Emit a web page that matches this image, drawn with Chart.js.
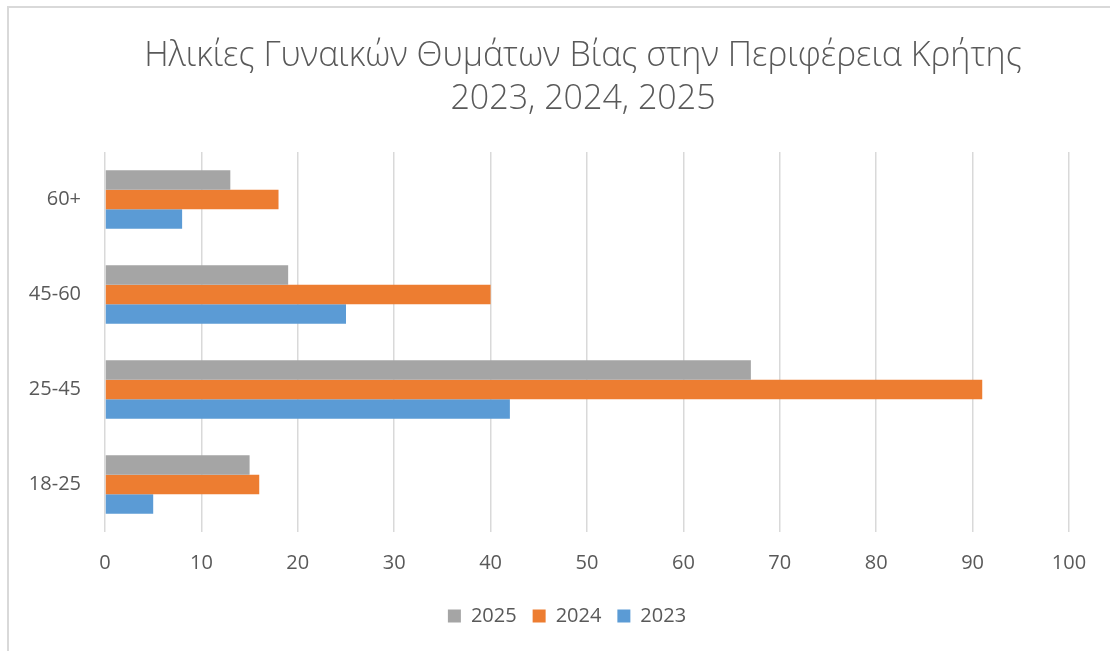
<!DOCTYPE html>
<html lang="el">
<head>
    <meta charset="UTF-8">
    <title>Ηλικίες Γυναικών Θυμάτων Βίας στην Περιφέρεια Κρήτης</title>
    <style>
        html, body {
            margin: 0;
            padding: 0;
            background: #ffffff;
            overflow: hidden;
        }

        #frame {
            position: absolute;
            left: 7px;
            top: 6px;
            width: 1200px;
            height: 700px;
            border-top: 2px solid #d9d9d9;
            border-left: 2px solid #d9d9d9;
        }

        #chartBox {
            position: absolute;
            left: 8px;
            top: 7px;
            width: 1150px;
            height: 644px;
        }
    </style>
    <script src="https://cdn.jsdelivr.net/npm/chart.js"></script>
</head>

<body>
    <div id="frame"></div>
    <div id="chartBox">
        <canvas id="chart1"></canvas>
    </div>

    <script>
        // Age groups, top to bottom as in the picture
        const ageGroups = ['60+', '45-60', '25-45', '18-25'];

        // Victims per age group and year
        const values2025 = [13, 19, 67, 15];
        const values2024 = [18, 40, 91, 16];
        const values2023 = [8, 25, 42, 5];

        const titleLines = ['Ηλικίες Γυναικών Θυμάτων Βίας στην Περιφέρεια Κρήτης', '2023, 2024, 2025'];

        const textColor = '#595959';
        const fontName = "'Open Sans', sans-serif";

        // Fixed widths/heights so the plot area lands where the original has it
        const yAxisWidth = 97;
        const rightSpace = 89;
        const xAxisHeight = 58;
        const legendShift = 16;

        // nudge the legend a bit to the left, like the original
        const legendNudge = {
            id: 'legendNudge',
            afterLayout(chart) {
                chart.legend.left -= legendShift;
                chart.legend.right -= legendShift;
            }
        };

        const ctx = document.getElementById('chart1').getContext('2d');
        const chart1 = new Chart(ctx, {
            type: 'bar',
            data: {
                labels: ageGroups,
                datasets: [
                    { label: '2025', data: values2025, backgroundColor: '#a5a5a5' },
                    { label: '2024', data: values2024, backgroundColor: '#ed7d31' },
                    { label: '2023', data: values2023, backgroundColor: '#5b9bd5' }
                ]
            },
            plugins: [legendNudge],
            options: {
                indexAxis: 'y',
                responsive: true,
                maintainAspectRatio: false,
                animation: false,
                datasets: {
                    bar: {
                        categoryPercentage: 0.616,
                        barPercentage: 1.0
                    }
                },
                layout: {
                    padding: { left: 0, right: 0, top: 0, bottom: 15 }
                },
                plugins: {
                    title: {
                        display: true,
                        text: titleLines,
                        color: textColor,
                        font: { family: fontName, size: 34, weight: '300', lineHeight: 1.265 },
                        padding: { top: 28, bottom: 31 }
                    },
                    legend: {
                        position: 'bottom',
                        labels: {
                            color: textColor,
                            font: { family: fontName, size: 20 },
                            boxWidth: 13,
                            boxHeight: 13,
                            padding: 16
                        }
                    },
                    tooltip: { enabled: false }
                },
                scales: {
                    x: {
                        min: 0,
                        max: 100,
                        ticks: {
                            stepSize: 10,
                            color: textColor,
                            font: { family: fontName, size: 20 },
                            padding: 19,
                            maxRotation: 0
                        },
                        grid: {
                            color: '#d9d9d9',
                            lineWidth: 1.5,
                            drawTicks: false
                        },
                        border: { display: false },
                        afterFit: function (scale) {
                            scale.height = xAxisHeight;
                        }
                    },
                    y: {
                        ticks: {
                            color: textColor,
                            font: { family: fontName, size: 20 },
                            padding: 24
                        },
                        grid: { display: false, drawTicks: false },
                        border: { display: false },
                        afterFit: function (scale) {
                            scale.width = yAxisWidth;
                        }
                    },
                    // empty axis, only keeps the space on the right free
                    spacer: {
                        type: 'linear',
                        position: 'right',
                        ticks: { display: false },
                        grid: { display: false, drawTicks: false },
                        border: { display: false },
                        afterFit: function (scale) {
                            scale.width = rightSpace;
                        }
                    }
                }
            }
        });
    </script>
</body>

</html>
